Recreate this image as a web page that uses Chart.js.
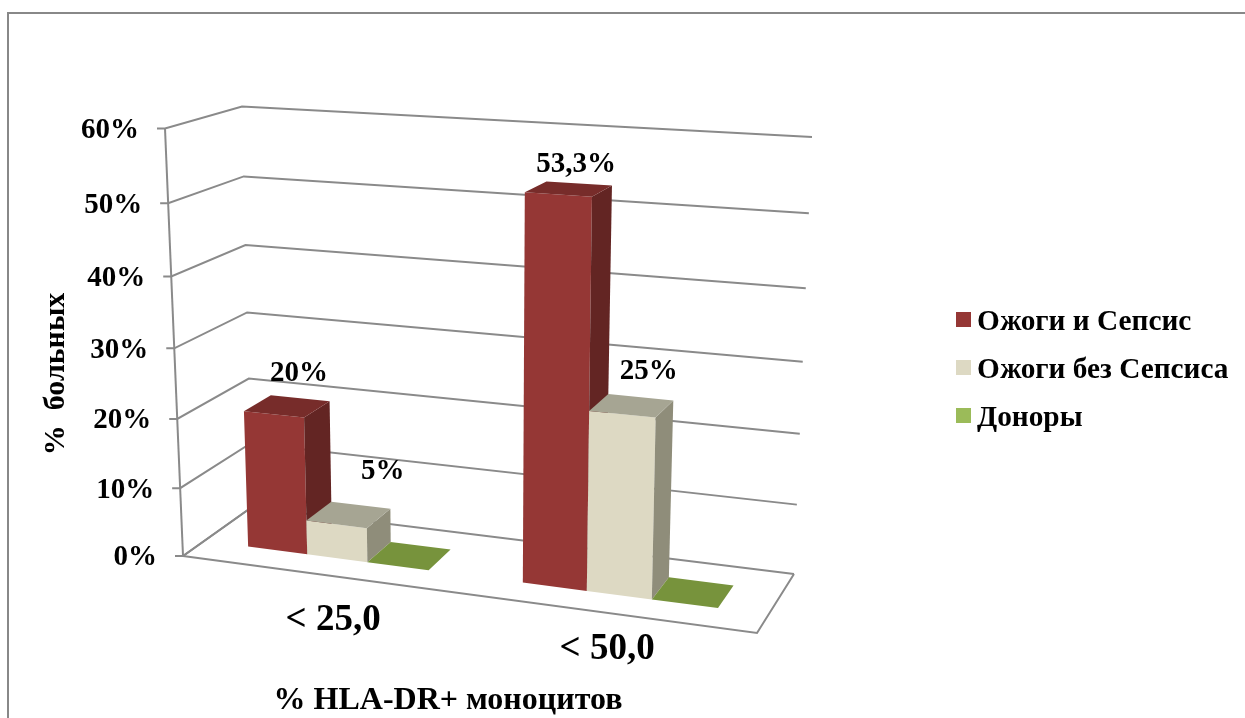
<!DOCTYPE html>
<html>
<head>
<meta charset="utf-8">
<title>HLA-DR</title>
<script src="https://cdn.jsdelivr.net/npm/chart.js@4"></script>
<style>
  html, body { margin: 0; padding: 0; background: #fff; overflow: hidden; }
  #frame { position: absolute; left: 7px; top: 12px; width: 1240px; height: 710px; border-top: 2px solid #888; border-left: 2px solid #888; }
  #c { position: absolute; left: 0; top: 0; }
</style>
</head>
<body>
<div id="frame"></div>
<canvas id="c" width="1245" height="718"></canvas>
<script>
const categories = ['< 25,0', '< 50,0'];
const seriesNames = ['Ожоги и Сепсис', 'Ожоги без Сепсиса', 'Доноры'];
const burnsSepsis = [20, 53.3];
const burnsNoSepsis = [5, 25];
const donors = [0, 0];
const valueLabels = [['20%', '53,3%'], ['5%', '25%'], [null, null]];
const yMax = 60;
const yStep = 10;

const legendColors = ['#953735', '#ddd9c3', '#9bbb59'];
const frontColors = ['#953735', '#ddd9c3', '#77933c'];
const topColors = ['#772c2a', '#a6a593', '#77933c'];
const sideColors = ['#632523', '#8f8d7a', '#77933c'];

const FONT = '"Liberation Serif"';
const GRID = '#8a8a8a';

// corners of the 3d box on screen: front/back, left/right, bottom/top
const box = {
  flb: [183, 556], flt: [165, 128.5],
  blb: [252, 507], blt: [242, 106.5],
  frb: [757, 633], frt: [772, 163],
  brb: [794, 574], brt: [812, 137],
};
const depthFront = 0.31, depthBack = 0.70;

function project(u, t, d) {
  // Excel perspective is not quite linear, small bend on both axes
  const uu = u - 0.078 * u * (1 - u);
  const tt = t - 0.057 * t * (1 - t);
  const mix = (a, b, k) => [a[0] + (b[0] - a[0]) * k, a[1] + (b[1] - a[1]) * k];
  const fl = mix(box.flb, box.flt, tt), fr = mix(box.frb, box.frt, tt);
  const bl = mix(box.blb, box.blt, tt), br = mix(box.brb, box.brt, tt);
  return mix(mix(fl, fr, uu), mix(bl, br, uu), d);
}

function poly(ctx, pts, fill, stroke) {
  ctx.beginPath();
  pts.forEach((p, i) => i ? ctx.lineTo(p[0], p[1]) : ctx.moveTo(p[0], p[1]));
  if (fill) { ctx.closePath(); ctx.fillStyle = fill; ctx.fill(); }
  if (stroke) { ctx.strokeStyle = stroke; ctx.stroke(); }
}

function text(ctx, str, x, y, size, align) {
  ctx.font = 'bold ' + size + 'px ' + FONT;
  ctx.fillStyle = '#000';
  ctx.textAlign = align || 'center';
  ctx.textBaseline = 'middle';
  ctx.fillText(str, x, y);
}

// nudges of the texts away from the bars, same order as the datasets
const labelNudge = [[[-1, -25], [-3, -19]], [[22, -34], [8, -26]]];
const categoryNudge = [[15, 46], [2, 37]];

const box3d = {
  id: 'box3d',
  beforeDatasetsDraw(chart) {
    const ctx = chart.ctx, area = chart.chartArea;
    const ys = chart.scales.y, xs = chart.scales.x;
    const tOf = px => (ys.bottom - px) / ys.height;
    const uOf = px => (px - area.left) / area.width;

    ctx.save();
    ctx.lineWidth = 2;
    ctx.lineJoin = 'miter';

    // floor
    poly(ctx, [project(0, 0, 0), project(1, 0, 0), project(1, 0, 1)], null, GRID);
    // walls and grid
    poly(ctx, [project(0, 0, 0), project(0, 1, 0)], null, GRID);
    ys.ticks.forEach(tick => {
      const t = tOf(ys.getPixelForValue(tick.value));
      const p = project(0, t, 0);
      poly(ctx, [[p[0] - 8, p[1]], p, project(0, t, 1), project(1, t, 1)], null, GRID);
      text(ctx, tick.label, p[0] - 26, p[1] + 2, 29, 'right');
    });
    poly(ctx, [project(0, 0, 0), project(0, 0, 1)], null, GRID);

    // bars, left to right
    categories.forEach((cat, i) => {
      chart.data.datasets.forEach((ds, s) => {
        const el = chart.getDatasetMeta(s).data[i];
        const u0 = uOf(el.x - el.width / 2), u1 = uOf(el.x + el.width / 2);
        const t = tOf(el.y);
        const a = (u, h, d) => project(u, h, d);
        if (t > 0) {
          poly(ctx, [a(u0, 0, depthFront), a(u1, 0, depthFront), a(u1, t, depthFront), a(u0, t, depthFront)], frontColors[s]);
          poly(ctx, [a(u1, 0, depthFront), a(u1, 0, depthBack), a(u1, t, depthBack), a(u1, t, depthFront)], sideColors[s]);
        }
        poly(ctx, [a(u0, t, depthFront), a(u1, t, depthFront), a(u1, t, depthBack), a(u0, t, depthBack)], topColors[s]);
      });
    });

    // value labels
    chart.data.datasets.forEach((ds, s) => {
      categories.forEach((cat, i) => {
        const str = valueLabels[s][i];
        if (!str) return;
        const el = chart.getDatasetMeta(s).data[i];
        const p = project(uOf(el.x), tOf(el.y), depthBack);
        text(ctx, str, p[0] + labelNudge[s][i][0], p[1] + labelNudge[s][i][1], 29);
      });
    });

    // category labels
    categories.forEach((cat, i) => {
      const p = project(uOf(xs.getPixelForTick(i)), 0, 0);
      text(ctx, cat, p[0] + categoryNudge[i][0], p[1] + categoryNudge[i][1], 37);
    });

    // axis titles
    text(ctx, '% HLA-DR+ моноцитов', 448, 701, 32);
    ctx.save();
    ctx.translate(56, 374);
    ctx.rotate(-Math.PI / 2);
    text(ctx, '%  больных', 0, 0, 30);
    ctx.restore();

    // legend
    seriesNames.forEach((name, s) => {
      const y = 320 + s * 48;
      ctx.fillStyle = legendColors[s];
      ctx.fillRect(956, y - 8, 15, 15);
      text(ctx, name, 977, y + 2, 29.3, 'left');
    });

    ctx.restore();
    return false; // native flat bars are replaced by the boxes above
  },
};

new Chart(document.getElementById('c'), {
  type: 'bar',
  data: {
    labels: categories,
    datasets: [
      { label: seriesNames[0], data: burnsSepsis, backgroundColor: legendColors[0] },
      { label: seriesNames[1], data: burnsNoSepsis, backgroundColor: legendColors[1] },
      { label: seriesNames[2], data: donors, backgroundColor: legendColors[2] },
    ],
  },
  options: {
    responsive: false,
    animation: false,
    layout: { padding: { left: 180, right: 450, top: 130, bottom: 85 } },
    datasets: { bar: { categoryPercentage: 0.666, barPercentage: 1 } },
    plugins: { legend: { display: false }, tooltip: { enabled: false } },
    scales: {
      x: { display: false },
      y: { display: false, min: 0, max: yMax, ticks: { stepSize: yStep, callback: v => v + '%' } },
    },
  },
  plugins: [box3d],
});
</script>
</body>
</html>
